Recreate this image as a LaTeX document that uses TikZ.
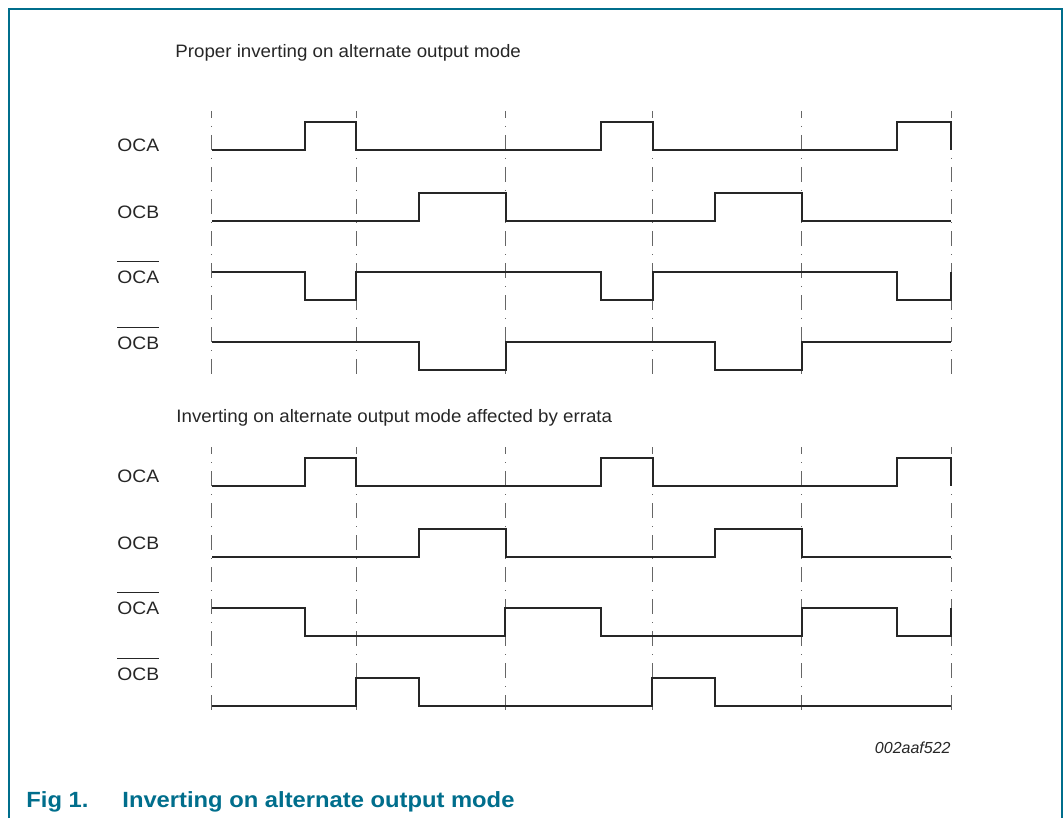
\documentclass[tikz,border=0pt]{standalone}
\usepackage{fontspec}
\setmainfont{Liberation Sans}
\usepackage{amsmath}
\usepackage{tikz}

\definecolor{nxpteal}{RGB}{0,110,140}

\newcommand{\barsig}[1]{$\overline{\rule{0pt}{9.6pt}\text{#1}}$}

\tikzset{
  wave/.style={line width=1.25pt, black!85, line join=miter},
  tick/.style={black!60, line width=0.5pt, dash pattern=on 7.5pt off 4pt on 0.5pt off 4pt, dash phase=4pt},
  sig/.style={anchor=base west, inner sep=0pt, font=\fontsize{9}{11}\selectfont\addfontfeatures{FakeStretch=1.07}, black!85},
  head/.style={anchor=base west, inner sep=0pt, font=\fontsize{9}{11}\selectfont\addfontfeatures{FakeStretch=1.04}, black!85},
  capt/.style={anchor=base west, inner sep=0pt, font=\fontsize{11}{13}\selectfont\bfseries\addfontfeatures{FakeStretch=1.08}, nxpteal}
}

\begin{document}
\begin{tikzpicture}[x=0.5pt, y=-0.5pt]
    \useasboundingbox (0,0) rectangle (1063,818);
    \draw [nxpteal, line width=0.8pt] (9,818) -- (9,9) -- (1062,9) -- (1062,818);

    % timing grid
    \foreach \t in {211,356,505,652,801,951} {
      \draw [tick] (\t,111) -- (\t,377);
      \draw [tick] (\t,447) -- (\t,713);
    }

    % proper inverting
    \node [head] (top) at (175,58) {Proper inverting on alternate output mode};
    \node [sig] (oca1) at (117,152) {OCA};
    \node [sig] (ocb1) at (117,219) {OCB};
    \node [sig] (ocan1) at (117,283) {\barsig{OCA}};
    \node [sig] (ocbn1) at (117,349) {\barsig{OCB}};
    \draw [wave] (212,150) -- (305,150) -- (305,122) -- (356,122) -- (356,150) -- (601,150) -- (601,122)
       -- (653,122) -- (653,150) -- (897,150) -- (897,122) -- (951,122) -- (951,150);
    \draw [wave] (212,221) -- (419,221) -- (419,193) -- (506,193) -- (506,221) -- (715,221) -- (715,193)
       -- (802,193) -- (802,221) -- (951,221);
    \draw [wave] (212,272) -- (305,272) -- (305,300) -- (356,300) -- (356,272) -- (601,272) -- (601,300)
       -- (653,300) -- (653,272) -- (897,272) -- (897,300) -- (951,300) -- (951,272);
    \draw [wave] (212,342) -- (419,342) -- (419,370) -- (506,370) -- (506,342) -- (715,342) -- (715,370)
       -- (802,370) -- (802,342) -- (951,342);

    % errata
    \node [head] (bot) at (176,422) {Inverting on alternate output mode affected by errata};
    \node [sig] (oca2) at (117,482) {OCA};
    \node [sig] (ocb2) at (117,549) {OCB};
    \node [sig] (ocan2) at (117,614) {\barsig{OCA}};
    \node [sig] (ocbn2) at (117,680) {\barsig{OCB}};
    \draw [wave] (212,486) -- (305,486) -- (305,458) -- (356,458) -- (356,486) -- (601,486) -- (601,458)
       -- (653,458) -- (653,486) -- (897,486) -- (897,458) -- (951,458) -- (951,486);
    \draw [wave] (212,557) -- (419,557) -- (419,529) -- (506,529) -- (506,557) -- (715,557) -- (715,529)
       -- (802,529) -- (802,557) -- (951,557);
    \draw [wave] (212,608) -- (305,608) -- (305,636) -- (505,636) -- (505,608) -- (601,608) -- (601,636)
       -- (802,636) -- (802,608) -- (897,608) -- (897,636) -- (951,636) -- (951,608);
    \draw [wave] (212,706) -- (356,706) -- (356,678) -- (419,678) -- (419,706) -- (652,706) -- (652,678)
       -- (715,678) -- (715,706) -- (951,706);

    \node [anchor=base east, inner sep=0pt, font=\fontsize{8}{10}\selectfont\itshape, black!85] (code) at (951,753) {002aaf522};
    \node [capt] (fig) at (26,807) {Fig 1.};
    \node [capt] (title) at (122,807) {Inverting on alternate output mode};
\end{tikzpicture}
\end{document}
